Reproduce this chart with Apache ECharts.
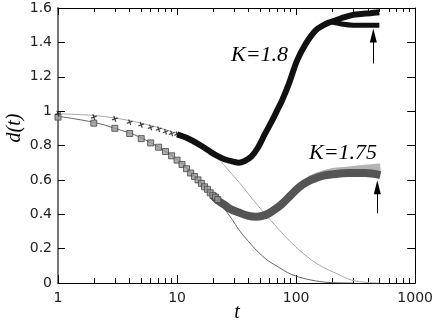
<!DOCTYPE html>
<html>
<head>
<meta charset="utf-8">
<script src="https://cdn.jsdelivr.net/npm/echarts@6/dist/echarts.min.js"></script>
<style>
  html, body { margin: 0; padding: 0; background: #fff; }
  #main { width: 436px; height: 327px; }
</style>
</head>
<body>
<div id="main"></div>
<script>
// tick labels / tick positions
const xMajorTicks = [1, 10, 100, 1000];
const xMinorTicks = [2, 3, 4, 5, 6, 7, 8, 9, 20, 30, 40, 50, 60, 70, 80, 90,
  200, 300, 400, 500, 600, 700, 800, 900];
const yTicks = [0, 0.2, 0.4, 0.6, 0.8, 1, 1.2, 1.4, 1.6];

// K=1.8 : sparse markers at small t, then dense band
const k18Stars = [[1, 0.985], [2, 0.965], [3, 0.955], [4, 0.935], [5, 0.92], [6, 0.905],
  [7, 0.895], [8, 0.88], [9, 0.87], [10, 0.865], [11, 0.855], [12, 0.845], [13, 0.835],
  [14, 0.825], [15, 0.81]];
const k18Band = [[10, 0.865], [12, 0.845], [15, 0.81], [18, 0.775], [21, 0.745], [25, 0.72],
  [30, 0.705], [33, 0.70], [37, 0.71], [42, 0.735], [48, 0.79], [55, 0.87], [63, 0.946],
  [70, 1.01], [76, 1.06], [87, 1.16], [102, 1.295], [120, 1.39], [146, 1.47], [170, 1.50],
  [188, 1.515], [218, 1.53], [250, 1.545], [300, 1.56], [350, 1.565], [420, 1.57],
  [500, 1.575]];
const k18Lower = [[200, 1.52], [250, 1.505], [300, 1.50], [400, 1.50], [500, 1.50]];

// K=1.75 : squares, dense band, second (light) run
const k175Squares = [[1, 0.965], [2, 0.93], [3, 0.90], [4, 0.87], [5, 0.84], [6, 0.815],
  [7, 0.79], [8, 0.765], [9, 0.74], [10, 0.715], [11, 0.69], [12, 0.665], [13, 0.64],
  [14, 0.62], [15, 0.60], [16, 0.58], [17, 0.56], [18, 0.545], [19, 0.525], [20, 0.51],
  [21, 0.50], [22, 0.485]];
const k175Band = [[20, 0.51], [22, 0.48], [25, 0.455], [28, 0.43], [33, 0.41], [40, 0.39],
  [46, 0.385], [52, 0.39], [59, 0.405], [67, 0.43], [76, 0.46], [90, 0.51], [105, 0.555],
  [125, 0.59], [146, 0.61], [170, 0.625], [200, 0.632], [275, 0.64], [380, 0.64],
  [510, 0.628]];
const k175Light = [[130, 0.60], [150, 0.62], [200, 0.645], [275, 0.655], [380, 0.665],
  [510, 0.672]];

// thin theory curves
const curveA = [[1, 0.985], [2, 0.975], [3, 0.96], [5, 0.93], [10, 0.87], [15, 0.81],
  [21, 0.74], [26, 0.67], [31, 0.61], [37, 0.545], [44, 0.48], [52, 0.42], [62, 0.36],
  [82, 0.267], [105, 0.195], [135, 0.133], [170, 0.09], [214, 0.058], [292, 0.017],
  [400, 0.003], [500, 0]];
const curveB = [[1, 0.97], [2, 0.935], [3, 0.90], [5, 0.845], [10, 0.72], [15, 0.60],
  [20, 0.51], [25, 0.43], [29, 0.37], [33, 0.31], [40, 0.24], [48, 0.18], [58, 0.13],
  [71, 0.093], [85, 0.06], [105, 0.035], [146, 0.012], [200, 0.002], [300, 0]];

// arrows [t, from, to]
const arrows = [[445, 1.277, 1.44], [481, 0.406, 0.557]];

const myChart = echarts.init(document.getElementById('main'));

const tickFont = { color: '#222', fontSize: 14, fontFamily: 'DejaVu Sans' };

function logAxis(pos, values, len, withLine, withLabel) {
  return {
    type: 'log', logBase: 10, min: 1, max: 1000, position: pos, gridIndex: 0,
    axisLine: { show: withLine, lineStyle: { color: '#000', width: 1 } },
    axisTick: { show: true, inside: true, length: len, customValues: values,
      lineStyle: { color: '#000', width: 1 } },
    axisLabel: Object.assign({ show: withLabel, margin: 8, customValues: values,
      formatter: v => String(v) }, tickFont),
    splitLine: { show: false },
    minorTick: { show: false }
  };
}

function thick(name, data, color, width, z) {
  return {
    name: name, type: 'line', data: data, smooth: 0.35,
    showSymbol: false, lineStyle: { color: color, width: width, cap: 'butt' }, z: z
  };
}

const lowerK18 = thick('K=1.8 lower', k18Lower, '#111', 5, 5);
lowerK18.markLine = {
  silent: true, symbol: ['none', 'triangle'], symbolSize: [7, 14],
  lineStyle: { color: '#000', width: 1, type: 'solid' }, label: { show: false },
  data: arrows.map(a => [{ coord: [a[0], a[1]] }, { coord: [a[0], a[2]] }])
};

myChart.setOption({
  animation: false,
  grid: { left: 58, right: 19, top: 8, bottom: 44 },
  xAxis: [
    logAxis('bottom', xMajorTicks, 8, true, true),
    logAxis('bottom', xMinorTicks, 5, false, false),
    logAxis('top', xMajorTicks, 7, true, false),
    logAxis('top', xMinorTicks, 4, false, false)
  ],
  yAxis: [
    {
      type: 'value', min: 0, max: 1.6, interval: 0.2, position: 'left',
      axisLine: { show: true, lineStyle: { color: '#777', width: 2 } },
      axisTick: { show: true, inside: true, length: 7, lineStyle: { color: '#000' } },
      axisLabel: Object.assign({ margin: 6, customValues: yTicks }, tickFont),
      splitLine: { show: false }
    },
    {
      type: 'value', min: 0, max: 1.6, interval: 0.2, position: 'right',
      axisLine: { show: true, lineStyle: { color: '#000', width: 1 } },
      axisTick: { show: true, inside: true, length: 8, lineStyle: { color: '#000' } },
      axisLabel: { show: false },
      splitLine: { show: false }
    }
  ],
  graphic: [
    { type: 'text', x: 231, y: 44, style: { text: 'K=1.8', fontFamily: 'Liberation Serif',
      fontStyle: 'italic', fontSize: 22, fill: '#000' } },
    { type: 'text', x: 309, y: 142, style: { text: 'K=1.75', fontFamily: 'Liberation Serif',
      fontStyle: 'italic', fontSize: 22, fill: '#000' } },
    { type: 'text', x: 237, y: 313, style: { text: 't', fontFamily: 'Liberation Serif',
      fontStyle: 'italic', fontSize: 20, fill: '#000', align: 'center', verticalAlign: 'middle' } },
    { type: 'text', x: 15, y: 128, rotation: Math.PI / 2, style: { text: 'd(t)',
      fontFamily: 'Liberation Serif', fontStyle: 'italic', fontSize: 20, fill: '#000',
      align: 'center', verticalAlign: 'middle' } }
  ],
  series: [
    thick('curveA', curveA, '#a8a8a8', 1, 1),
    thick('curveB', curveB, '#666', 1, 1),
    thick('K=1.75 light', k175Light, '#b3b3b3', 8, 2),
    thick('K=1.75', k175Band, '#555', 8, 3),
    {
      name: 'K=1.75 squares', type: 'scatter', data: k175Squares, symbol: 'rect', symbolSize: 6,
      itemStyle: { color: '#999', borderColor: '#444', borderWidth: 1 }, z: 4
    },
    lowerK18,
    thick('K=1.8', k18Band, '#111', 6, 5),
    {
      name: 'K=1.8 stars', type: 'scatter', data: k18Stars, symbolRotate: 20, symbolSize: 6,
      symbol: 'path://M-1,-5L1,-5L1,-1L5,-1L5,1L1,1L1,5L-1,5L-1,1L-5,1L-5,-1L-1,-1Z',
      itemStyle: { color: '#111' }, z: 6
    }
  ]
});
</script>
</body>
</html>
